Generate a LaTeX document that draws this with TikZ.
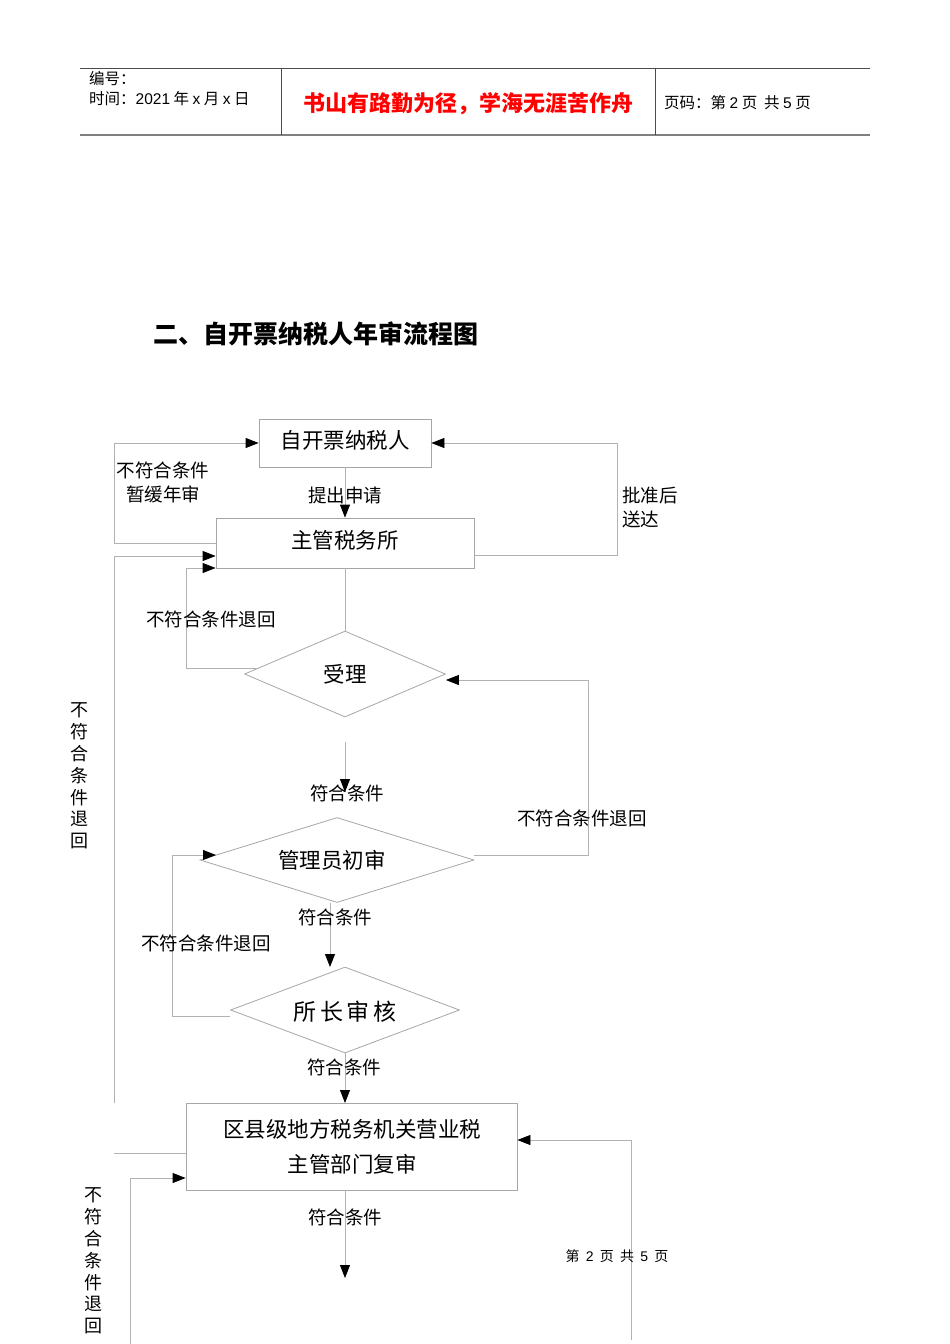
\documentclass[tikz,border=0pt]{standalone}
\usepackage{fontspec}
\setmainfont{Noto Sans CJK SC}
\newfontfamily\hdr{Liberation Sans}
\usetikzlibrary{arrows.meta,shapes.geometric}
\begin{document}
\begin{tikzpicture}[x=1pt,y=-1pt,
  ln/.style={draw=black!30,line width=0.8pt},
  ar/.style={ln,-{Triangle[length=13pt,width=10pt,fill=black,color=black]}},
  bx/.style={draw=black!35,line width=0.8pt,inner sep=0pt,font=\fontsize{21.5}{26}\selectfont},
  lb/.style={font=\fontsize{18.5}{24}\selectfont,inner sep=0pt}]
\useasboundingbox (0,0) rectangle (950,1344);
% header
\draw[black!70,line width=1pt] (80,68) -- (870,68);
\draw[black!50,line width=1.5pt] (80,135) -- (870,135);
\draw[black!70,line width=0.8pt] (281,68) -- (281,135) (655,68) -- (655,135);
\node[anchor=west,inner sep=0pt,font=\fontsize{15.5}{18}\selectfont] (h1) at (89,79) {编号：};
\node[anchor=west,inner sep=0pt,font=\fontsize{15.5}{18}\selectfont] (h2) at (89,99) {时间：{\hdr 2021} 年 {\hdr x} 月 {\hdr x} 日};
\node[inner sep=0pt,text=red,font=\fontsize{22}{26}\selectfont\bfseries] (h3) at (468,104) {书山有路勤为径，学海无涯苦作舟};
\node[anchor=west,inner sep=0pt,font=\fontsize{15.5}{18}\selectfont] (h4) at (664,103) {页码：第 {\hdr 2} 页\ \ 共 {\hdr 5} 页};
\node[anchor=west,inner sep=0pt,font=\fontsize{25}{28}\selectfont\bfseries] (t) at (153,334) {二、自开票纳税人年审流程图};
% nodes
\node[bx,minimum width=172pt,minimum height=48pt] (A) at (345,443) {};
\node[bx,draw=none] at (345,440) {自开票纳税人};
\node[bx,minimum width=258pt,minimum height=50pt] (B) at (345,543) {};
\node[bx,draw=none] at (345,540) {主管税务所};
\node[bx,diamond,aspect=2.34,minimum width=201pt,minimum height=86pt] (D1) at (345,674) {};
\node[bx,draw=none] at (345,674) {受理};
\node[bx,diamond,aspect=3.2,minimum width=274pt,minimum height=85pt] (D2) at (337,860) {};
\node[bx,draw=none] at (332,860) {管理员初审};
\node[bx,diamond,aspect=2.66,minimum width=229pt,minimum height=86pt] (D3) at (345,1010) {};
\node[bx,draw=none,font=\fontsize{23}{26}\selectfont] at (345,1012) {所\,长\,审\,核};
\node[bx,minimum width=331pt,minimum height=87pt] (C) at (351.5,1146.5) {};
\node[bx,draw=none,align=center,font=\fontsize{21.5}{35}\selectfont] at (352,1147) {区县级地方税务机关营业税\\主管部门复审};
% coordinates
\coordinate (p1) at (114,543); \coordinate (p2) at (114,443);
\coordinate (q1) at (617,555); \coordinate (q2) at (617,443);
\coordinate (r1) at (186,668); \coordinate (r2) at (186,568);
\coordinate (s1) at (114,1103); \coordinate (s2) at (114,556);
\coordinate (u1) at (345,742); \coordinate (u2) at (345,792);
\coordinate (v1) at (588,855); \coordinate (v2) at (588,680);
\coordinate (w1) at (172,1016); \coordinate (w2) at (172,855);
\coordinate (x1) at (114,1153);
\coordinate (y1) at (130,1344); \coordinate (y2) at (130,1178);
\coordinate (z1) at (631,1340); \coordinate (z2) at (631,1140);
\coordinate (e1) at (345,1278);
% connectors
\draw[ar] (A.south) -- (B.north);
\draw[ar] (B.west |- p1) -- (p1) -- (p2) -- (A.west |- p2);
\draw[ar] (B.east |- q1) -- (q1) -- (q2) -- (A.east |- q2);
\draw[ln] (B.south) -- (D1.north);
\draw[ar] (258,668) -- (r1) -- (r2) -- (B.west |- r2);
\draw[ar] (s1) -- (s2) -- (B.west |- s2);
\draw[ar] (u1) -- (u2);
\draw[ar] (474,855) -- (v1) -- (v2) -- (D1.east |- v2);
\draw[ar] (330,903) -- (330,967);
\draw[ar] (D3.west |- w1) -- (w1) -- (w2) -- (216,855);
\draw[ar] (D3.south) -- (345,1103);
\draw[ln] (C.west |- x1) -- (x1);
\draw[ar] (y1) -- (y2) -- (C.west |- y2);
\draw[ar] (z1) -- (z2) -- (C.east |- z2);
\draw[ar] (C.south -| e1) -- (e1);
% labels
\node[lb] (l1) at (345,495) {提出申请};
\node[lb,align=center] (l2) at (163,482) {不符合条件\\暂缓年审};
\node[lb,anchor=west,align=left] (l3) at (622,507) {批准后\\送达};
\node[lb] (l4) at (211,619) {不符合条件退回};
\node[lb,align=center,font=\fontsize{18}{21.8}\selectfont] (l5) at (79,776) {不\\符\\合\\条\\件\\退\\回};
\node[lb] (l6) at (347,793) {符合条件};
\node[lb] (l7) at (582,818) {不符合条件退回};
\node[lb] (l8) at (335,917) {符合条件};
\node[lb] (l9) at (206,943) {不符合条件退回};
\node[lb] (l10) at (344,1067) {符合条件};
\node[lb,align=center,font=\fontsize{18}{21.8}\selectfont] (l11) at (93,1261) {不\\符\\合\\条\\件\\退\\回};
\node[lb] (l12) at (345,1217) {符合条件};
\node[inner sep=0pt,font=\fontsize{14}{16}\selectfont] (f) at (617,1256) {第\ \ {\hdr 2}\ \ 页\ \ 共\ \ {\hdr 5}\ \ 页};
\end{tikzpicture}
\end{document}
